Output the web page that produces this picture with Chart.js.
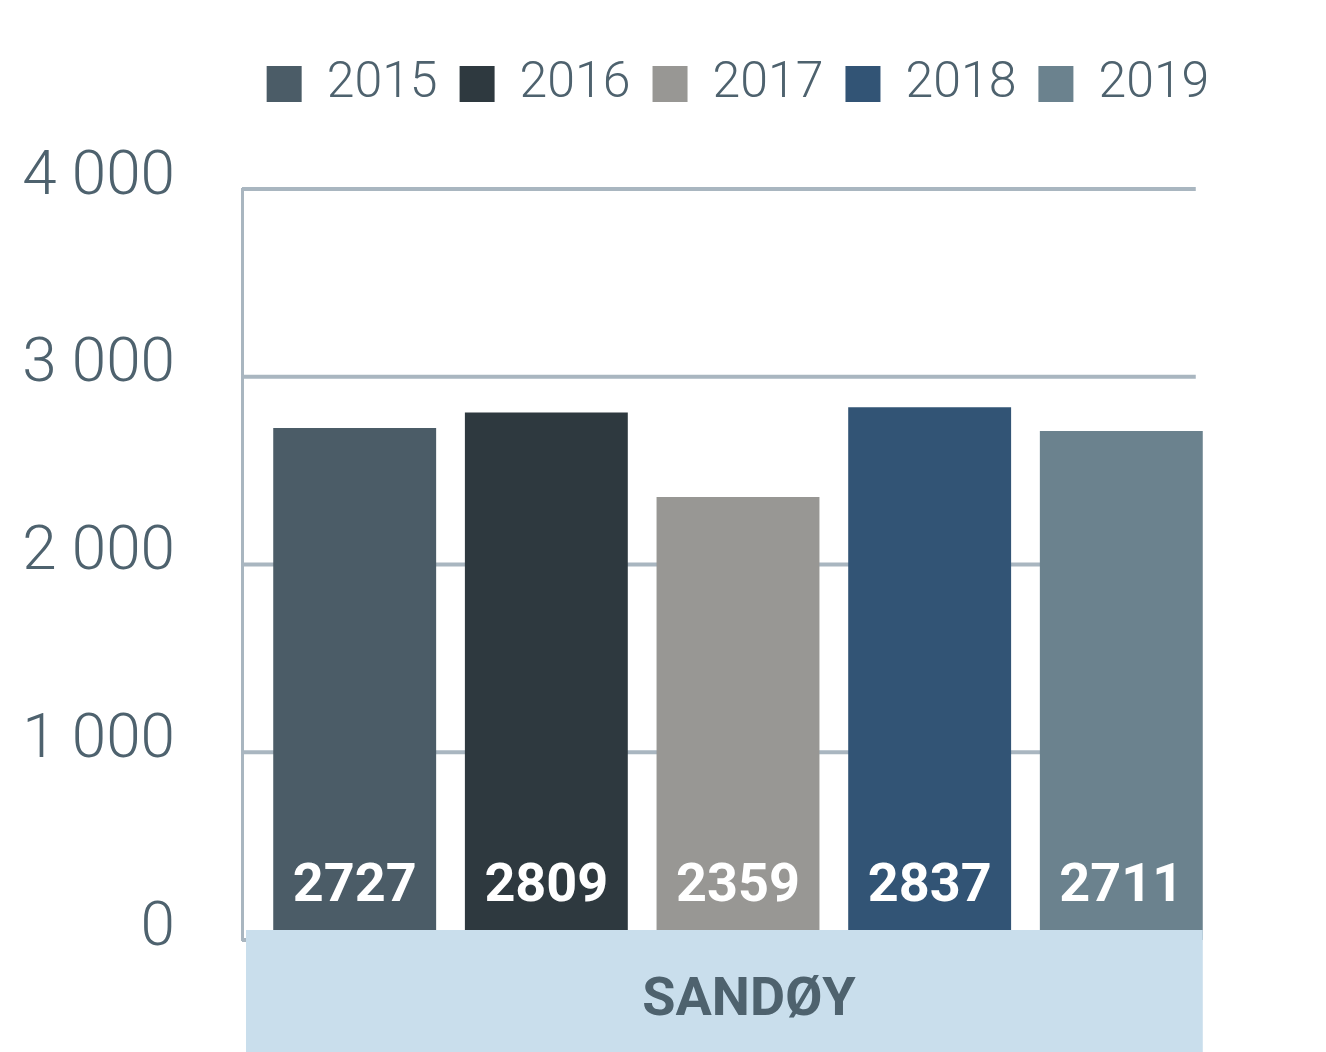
<!DOCTYPE html>
<html lang="no">
<head>
<meta charset="utf-8">
<title>Sandøy</title>
<script src="https://cdn.jsdelivr.net/npm/chart.js@4.4.1/dist/chart.umd.min.js"></script>
<style>
  html, body { margin: 0; padding: 0; background: #fff; }
  #wrap { width: 1326px; height: 1052px; position: relative; }
</style>
</head>
<body>
<div id="wrap"><canvas id="chart"></canvas></div>
<script>
// Data
const categories = ['SANDØY'];
const years = ['2015', '2016', '2017', '2018', '2019'];
const values = [2727, 2809, 2359, 2837, 2711];
const yTicks = [0, 1000, 2000, 3000, 4000];
const colors = ['#4b5c67', '#2e393f', '#989794', '#325475', '#6b828e'];

const TEXT = '#4e626e';
const GRID = '#a9b6c0';
const BAND = '#c9deec';
const FONT = 'Roboto';

const fmt = v => String(v).replace(/\B(?=(\d{3})+(?!\d))/g, ' ');

// Extra room under the legend so the plot starts lower
const legendGap = {
  id: 'legendGap',
  afterInit(chart) {
    const fit = chart.legend.fit;
    chart.legend.fit = function () { fit.call(this); this.height += 70; };
  }
};

// Horizontal grid lines, stopping just short of the last bar's edge
const gridLines = {
  id: 'gridLines',
  beforeDatasetsDraw(chart) {
    const { ctx, chartArea, scales: { y } } = chart;
    const last = chart.getDatasetMeta(chart.data.datasets.length - 1).data[0];
    const right = last.x + last.width / 2 - 7;
    ctx.save();
    ctx.strokeStyle = GRID;
    ctx.lineWidth = 4;
    yTicks.forEach(v => {
      const py = y.getPixelForValue(v);
      ctx.beginPath();
      ctx.moveTo(chartArea.left, py);
      ctx.lineTo(right, py);
      ctx.stroke();
    });
    ctx.restore();
  }
};

// Light category band over the bar feet + white value labels
const bandAndLabels = {
  id: 'bandAndLabels',
  afterDatasetsDraw(chart) {
    const { ctx, chartArea } = chart;
    const bars = chart.data.datasets.map((d, i) => chart.getDatasetMeta(i).data[0]);
    const last = bars[bars.length - 1];
    const left = chartArea.left + 4;
    ctx.save();
    ctx.fillStyle = BAND;
    ctx.fillRect(left, chartArea.bottom - 10, last.x + last.width / 2 - left, chart.height - chartArea.bottom + 10);
    ctx.font = `bold 54px ${FONT}`;
    ctx.fillStyle = '#ffffff';
    ctx.textAlign = 'center';
    ctx.textBaseline = 'alphabetic';
    bars.forEach((bar, i) => {
      ctx.fillText(String(chart.data.datasets[i].data[0]), bar.x, bar.base - 39);
    });
    ctx.restore();
  }
};

const datasets = years.map((year, i) => ({
  label: year,
  data: [values[i]],
  backgroundColor: colors[i],
  borderWidth: 0,
  categoryPercentage: 0.966,
  barPercentage: 0.85
}));

new Chart(document.getElementById('chart').getContext('2d'), {
  type: 'bar',
  data: { labels: categories, datasets },
  plugins: [legendGap, gridLines, bandAndLabels],
  options: {
    responsive: true, maintainAspectRatio: false,
    animation: false,
    events: [],
    layout: { padding: { top: 37, right: 92, bottom: 0, left: 0 } },
    plugins: {
      tooltip: { enabled: false },
      legend: {
        position: 'top', align: 'center', fullSize: false,
        labels: {
          boxWidth: 35, boxHeight: 36, padding: 22,
          color: TEXT,
          font: { family: FONT, size: 50, weight: 300 }
        }
      }
    },
    scales: {
      x: {
        grid: { display: false, drawTicks: false },
        border: { display: false },
        ticks: { color: TEXT, font: { family: FONT, size: 54, weight: 'bold' }, padding: 29, labelOffset: 11, z: 1 },
        afterFit: s => { s.height = 112; }
      },
      y: {
        min: 0, max: 4000,
        grid: { display: false, drawTicks: false },
        border: { display: true, color: GRID, width: 3 },
        ticks: {
          stepSize: 1000,
          color: TEXT,
          font: { family: FONT, size: 62, weight: 300 },
          padding: 67,
          labelOffset: -11,
          callback: v => fmt(v)
        },
        afterFit: s => { s.width = 242; }
      }
    }
  }
});
</script>
</body>
</html>
